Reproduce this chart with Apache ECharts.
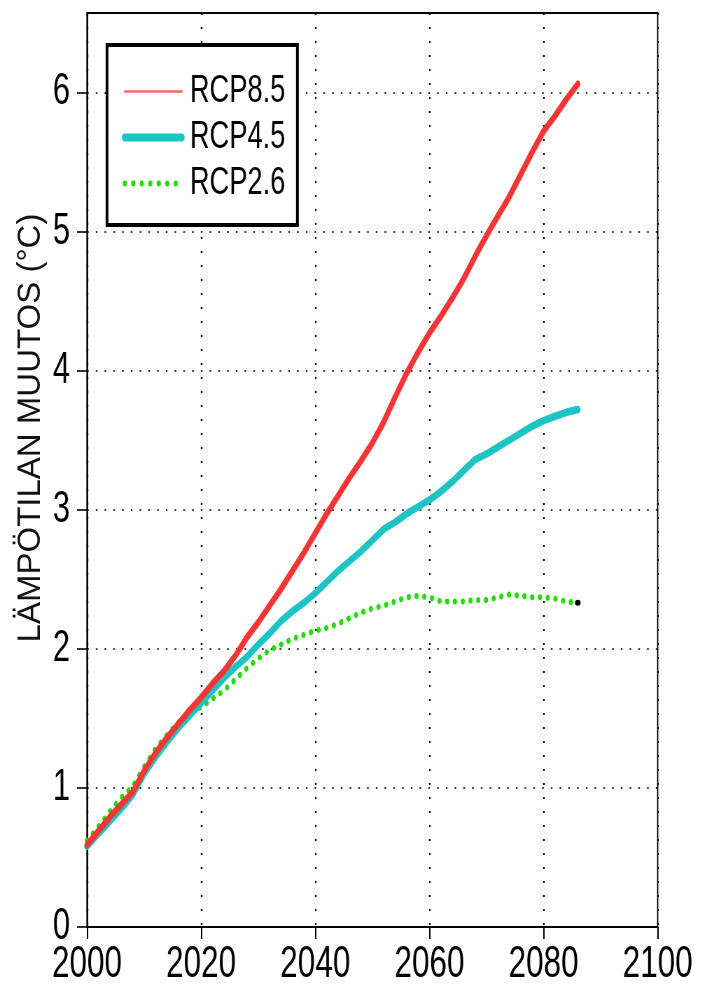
<!DOCTYPE html>
<html>
<head>
<meta charset="utf-8">
<script src="https://cdn.jsdelivr.net/npm/echarts@6/dist/echarts.min.js"></script>
<style>
  html, body { margin: 0; padding: 0; background: #fff; overflow: hidden; }
  #wrap { width: 701px; height: 987px; overflow: hidden; position: relative; }
  #chart { width: 1001.43px; height: 987px; transform: scaleX(0.7); transform-origin: 0 0; position: absolute; left: 0; top: 0; }
</style>
</head>
<body>
<div id="wrap"><div id="chart"></div></div>
<script>
// ---- data ----
var years = [2000, 2002, 2004, 2006, 2008, 2010, 2012, 2014, 2016, 2018,
             2020, 2022, 2024, 2026, 2028, 2030, 2032, 2034, 2036, 2038,
             2040, 2042, 2044, 2046, 2048, 2050, 2052, 2054, 2056, 2058,
             2060, 2062, 2064, 2066, 2068, 2070, 2072, 2074, 2076, 2078,
             2080, 2082, 2084, 2086];
var rcp85 = [0.59, 0.69, 0.79, 0.88, 0.97, 1.12, 1.25, 1.36, 1.46, 1.56,
             1.65, 1.75, 1.84, 1.95, 2.08, 2.19, 2.31, 2.43, 2.56, 2.69,
             2.83, 2.97, 3.10, 3.23, 3.35, 3.48, 3.63, 3.81, 3.98, 4.13,
             4.27, 4.39, 4.52, 4.66, 4.82, 4.97, 5.11, 5.25, 5.41, 5.57,
             5.72, 5.83, 5.95, 6.06];
var rcp45 = [0.58, 0.67, 0.76, 0.85, 0.95, 1.10, 1.22, 1.33, 1.43, 1.52,
             1.61, 1.70, 1.79, 1.87, 1.94, 2.03, 2.11, 2.20, 2.27, 2.33,
             2.40, 2.48, 2.56, 2.63, 2.70, 2.78, 2.86, 2.91, 2.97, 3.02,
             3.07, 3.13, 3.20, 3.28, 3.36, 3.40, 3.45, 3.50, 3.55, 3.60,
             3.64, 3.67, 3.70, 3.72];
var rcp26 = [0.62, 0.72, 0.83, 0.93, 1.01, 1.15, 1.28, 1.38, 1.47, 1.55,
             1.58, 1.64, 1.70, 1.78, 1.86, 1.93, 1.99, 2.03, 2.07, 2.10,
             2.13, 2.15, 2.18, 2.22, 2.26, 2.29, 2.31, 2.34, 2.37, 2.38,
             2.37, 2.34, 2.34, 2.34, 2.35, 2.35, 2.37, 2.39, 2.38, 2.37,
             2.37, 2.36, 2.34, 2.33];
var seriesNames = ['RCP8.5', 'RCP4.5', 'RCP2.6'];
var xTicks = [2000, 2020, 2040, 2060, 2080, 2100];
var yTicks = [0, 1, 2, 3, 4, 5, 6];
var yAxisTitle = 'LÄMPÖTILAN MUUTOS (°C)';

function pairs(xs, ys) { return xs.map(function (x, i) { return [x, ys[i]]; }); }

// the page is drawn in a wider frame and squeezed horizontally (narrow type, like the reference)
var SX = 0.7;
function hx(px) { return px / SX; }   // screen px -> frame px (horizontal)

var FONT = '"Liberation Sans", Arial, sans-serif';
var chart = echarts.init(document.getElementById('chart'), null, { renderer: 'canvas' });
var lastIdx = years.length - 1;
var hiddenSymbol = { opacity: 0, borderWidth: 0 };

chart.setOption({
  animation: false,
  backgroundColor: '#ffffff',
  grid: {
    left: hx(87), right: hx(43), top: 13, bottom: 59,
    show: true, borderColor: '#000', borderWidth: 1.8, backgroundColor: 'transparent'
  },
  xAxis: {
    type: 'value', min: 2000, max: 2100, interval: 20,
    axisLine: { show: true, onZero: false, lineStyle: { color: '#000', width: 2 } },
    axisTick: { show: true, inside: false, length: 12, customValues: xTicks, lineStyle: { color: '#000', width: 2 } },
    axisLabel: { color: '#000', fontFamily: FONT, fontSize: 45, margin: 15, customValues: xTicks,
                 formatter: function (v) { return String(v); } },
    splitLine: { show: true, lineStyle: { color: '#000', width: 2.4, type: [2, 12] } }
  },
  yAxis: {
    type: 'value', min: 0, max: 6.57,
    axisLine: { show: true, onZero: false, lineStyle: { color: '#000', width: 1.9 } },
    axisTick: { show: true, inside: false, length: hx(10), customValues: yTicks, lineStyle: { color: '#000', width: 1.6 } },
    axisLabel: { color: '#000', fontFamily: FONT, fontSize: 44, margin: hx(17), customValues: yTicks,
                 formatter: function (v) { return String(v); } },
    splitLine: { show: true, lineStyle: { color: '#000', width: 1.7, type: [2.5, 10] } }
  },
  legend: {
    orient: 'vertical', left: hx(107), top: 45,
    padding: [27, hx(12), 22, hx(15)],
    itemGap: 7, itemWidth: hx(57), itemHeight: 14,
    borderColor: '#000', borderWidth: 4, backgroundColor: '#fff',
    textStyle: { color: '#000', fontFamily: FONT, fontSize: 39, padding: [0, 0, 0, hx(8) - 5] },
    data: [
      { name: seriesNames[0], itemStyle: hiddenSymbol, lineStyle: { color: '#f06a6a', width: 2.5 } },
      { name: seriesNames[1], itemStyle: hiddenSymbol, lineStyle: { color: '#1ec3c3', width: 8, cap: 'round' } },
      { name: seriesNames[2], itemStyle: hiddenSymbol, lineStyle: { color: '#22dd00', width: 6, type: [0.1, 12], cap: 'round' } }
    ]
  },
  graphic: [{
    type: 'text',
    x: hx(31), y: 428, rotation: Math.PI / 2, scaleY: 1.4,
    style: {
      text: yAxisTitle, fill: '#111', font: '33px ' + FONT,
      align: 'center', verticalAlign: 'middle'
    }
  }],
  series: [
    {
      name: seriesNames[2], type: 'line', data: pairs(years, rcp26), z: 2,
      symbol: 'none', smooth: false, color: '#22dd00',
      lineStyle: { color: '#22dd00', width: 6, type: [0.1, 11], cap: 'round' },
      markPoint: {
        symbol: 'circle', symbolSize: [8, 6], silent: true,
        itemStyle: { color: '#000' }, label: { show: false },
        data: [{ coord: [years[lastIdx], rcp26[lastIdx]] }]
      }
    },
    {
      name: seriesNames[1], type: 'line', data: pairs(years, rcp45), z: 3,
      symbol: 'none', smooth: false, color: '#1ec3c3',
      lineStyle: { color: '#1ec3c3', width: 7.5, cap: 'round', join: 'round' }
    },
    {
      name: seriesNames[0], type: 'line', data: pairs(years, rcp85), z: 4,
      symbol: 'none', smooth: false, color: '#f53535',
      lineStyle: { color: '#f53535', width: 7, cap: 'round', join: 'round' }
    }
  ]
});
</script>
</body>
</html>
